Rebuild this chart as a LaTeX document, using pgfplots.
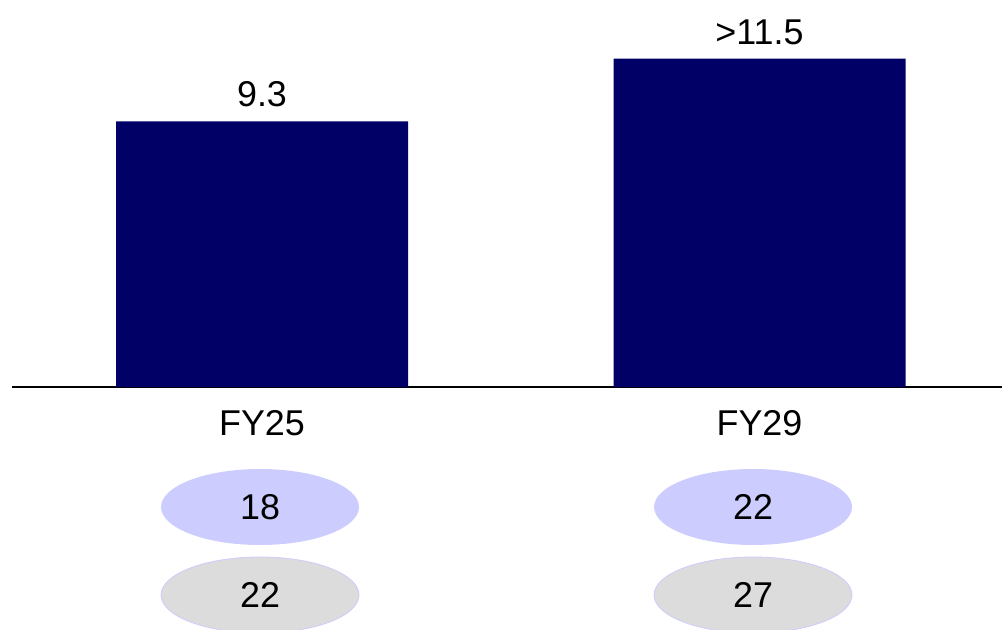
\documentclass[border=0pt]{standalone}
\usepackage{pgfplots}
\pgfplotsset{compat=1.18}
\usepackage{fontspec}
\setmainfont{Liberation Sans}
\usetikzlibrary{shapes.geometric}
\definecolor{barnavy}{RGB}{0,0,102}
\definecolor{lav}{RGB}{204,204,255}
\definecolor{lgray}{RGB}{220,220,220}
\begin{document}
\begin{tikzpicture}
\begin{axis}[
  scale only axis,
  width=990bp, height=387bp,
  xmin=-0.5025, xmax=1.4874,
  ymin=0, ymax=13.555,
  axis x line=bottom,
  axis line style={-, line width=1.5bp, black},
  hide y axis,
  xtick={0,1},
  xticklabels={FY25,FY29},
  major tick length=0pt,
  xticklabel style={anchor=base, yshift=-48bp, font=\fontsize{36}{42}\selectfont},
  clip=false,
]
\addplot[ybar, bar width=292bp, fill=barnavy, draw=none,
  nodes near coords, point meta=explicit symbolic,
  every node near coord/.append style={anchor=south, inner sep=0pt, yshift=14bp, font=\fontsize{36}{42}\selectfont, text=black}]
  coordinates {(0,9.3) [9.3] (1,11.5) [>11.5]};
\addplot[draw=none, mark=none,
  nodes near coords, point meta=explicit symbolic,
  every node near coord/.append style={anchor=center, ellipse, fill=lav, inner sep=0pt, minimum width=198bp, minimum height=76bp, font=\fontsize{36}{42}\selectfont, text=black}]
  coordinates {(-0.004,-4.203) [18] (0.987,-4.203) [22]};
\addplot[draw=none, mark=none,
  nodes near coords, point meta=explicit symbolic,
  every node near coord/.append style={anchor=center, ellipse, fill=lgray, draw=lav, line width=0.8bp, inner sep=0pt, minimum width=198bp, minimum height=76bp, font=\fontsize{36}{42}\selectfont, text=black}]
  coordinates {(-0.004,-7.285) [22] (0.987,-7.285) [27]};
\end{axis}
\pgfresetboundingbox
\path[use as bounding box] ([xshift=-12bp,yshift=-243bp]current axis.south west) rectangle (current axis.north east);
\end{tikzpicture}
\end{document}
